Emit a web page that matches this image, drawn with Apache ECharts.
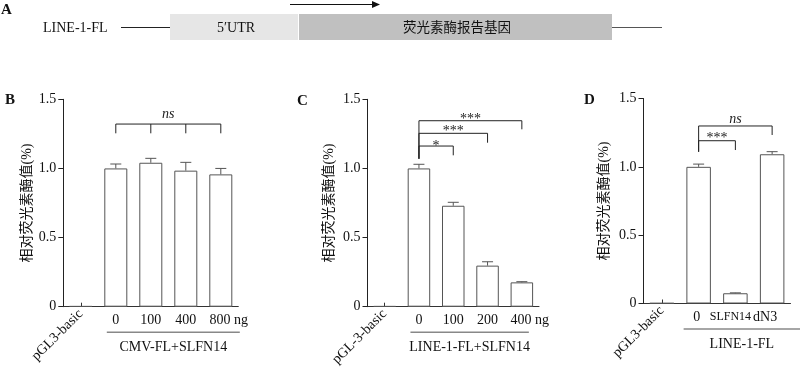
<!DOCTYPE html>
<html><head><meta charset="utf-8">
<script src="https://cdn.jsdelivr.net/npm/echarts@6/dist/echarts.min.js"></script>
<style>html,body{margin:0;padding:0;background:#fff}#c{width:800px;height:369px}</style>
</head><body><div id="c"></div>
<script>
// ---------- data ----------
const catsB = ['pGL3-basic', '0', '100', '400', '800'];
const valsB = [0.004, 1.0, 1.041, 0.984, 0.957];
const errB  = [0, 0.032, 0.032, 0.06, 0.043];
const catsC = ['pGL-3-basic', '0', '100', '200', '400'];
const valsC = [0.004, 1.0, 0.73, 0.297, 0.176];
const errC  = [0, 0.03, 0.025, 0.028, 0.005];
const catsD = ['pGL3-basic', '0', 'SLFN14', 'dN3'];
const valsD = [0.003, 1.0, 0.075, 1.092];
const errD  = [0, 0.02, 0.003, 0.019];
const unitB = 'ng', unitC = 'ng', unitD = '';
const yTickLabels = ['0', '0.5', '1.0', '1.5'];
const yTitle = '相对荧光素酶值(%)';
// bracket: [fromIdx, toIdx, yTop, yLeftEnd, yRightEnd, label, labelY, innerTicks]
const bracketsB = [[1, 4, 1.321, 1.254, 1.254, 'ns', 1.39, true]];
const bracketsC = [[1, 4, 1.345, 1.07, 1.283, '***', 1.38, false],
                   [1, 3, 1.254, 1.07, 1.186, '***', 1.29, false],
                   [1, 2, 1.162, 1.07, 1.095, '*', 1.185, false]];
const bracketsD = [[1, 3, 1.299, 1.11, 1.233, 'ns', 1.348, false],
                   [1, 2, 1.191, 1.11, 1.123, '***', 1.228, false]];
const groupB = ['CMV-FL+SLFN14', 1, 4];
const groupC = ['LINE-1-FL+SLFN14', 1, 4];
const groupD = ['LINE-1-FL', 1, 3];
const schemeLabels = ['LINE-1-FL', '5′UTR', '荧光素酶报告基因'];

// ---------- style ----------
const SERIF = '"Liberation Serif","Times New Roman","Noto Sans CJK SC",serif';
const FS = 14;
const panels = [
  {letter:'B', cats:catsB, vals:valsB, errs:errB, unit:unitB, br:bracketsB, grp:groupB,
   grid:{left:63.3, top:99.3, width:175, height:207.4}, barW:23, nameGap:29, grpOff:[-9, 19], letterPos:[5, 93],
   labelStyle:null},
  {letter:'C', cats:catsC, vals:valsC, errs:errC, unit:unitC, br:bracketsC, grp:groupC,
   grid:{left:367.5, top:99.3, width:171.5, height:207.4}, barW:22.5, nameGap:31.5, grpOff:[-8.5, 7], letterPos:[297, 94],
   labelStyle:null},
  {letter:'D', cats:catsD, vals:valsD, errs:errD, unit:unitD, br:bracketsD, grp:groupD,
   grid:{left:643.5, top:98.5, width:147, height:205}, barW:24.5, nameGap:32.5, grpOff:[-15, 28], letterPos:[584, 93],
   labelStyle:{1:{padding:[0, 4, 0, 0]}, 2:{fontSize:12, padding:[0, 10, 0, 0]}, 3:{padding:[0, 14, 0, 0]}}}
];

const grids = [], xAxes = [], yAxes = [], series = [], graphics = [];
const tickLen = 4;

panels.forEach((p, pi) => {
  grids.push(Object.assign({containLabel:false, outerBoundsMode:'none'}, p.grid));
  const last = p.cats.length - 1;
  const rich = {p:{width:16, fontSize:FS, fontFamily:SERIF}};
  if (p.labelStyle) {
    Object.keys(p.labelStyle).forEach(k => {
      rich['r' + k] = Object.assign({fontSize:FS, fontFamily:SERIF, color:'#111'}, p.labelStyle[k]);
    });
  }
  xAxes.push({
    gridIndex: pi, type:'category', data:p.cats, boundaryGap:true,
    axisLine:{show:true, lineStyle:{color:'#333', width:1}},
    axisTick:{show:true, inside:true, length:tickLen, alignWithLabel:true, lineStyle:{color:'#333'}},
    axisLabel:{interval:0, margin:7, color:'#111', fontFamily:SERIF, fontSize:FS,
      formatter:(v, i) => {
        if (i === 0) return '';
        if (p.labelStyle && p.labelStyle[i]) return '{r' + i + '|' + v + '}';
        return (i === last && p.unit) ? '{p|}' + v + ' ' + p.unit : v;
      },
      rich:rich},
    splitLine:{show:false}
  });
  xAxes.push({
    gridIndex: pi, type:'category', data:p.cats, boundaryGap:true, position:'bottom',
    axisLine:{show:false}, axisTick:{show:false},
    axisLabel:{interval:0, rotate:45, margin:5, color:'#111', fontFamily:SERIF, fontSize:FS,
      formatter:(v, i) => i === 0 ? v : ''},
    splitLine:{show:false}
  });
  yAxes.push({
    gridIndex: pi, type:'value', min:0, max:1.5, interval:0.5,
    name:yTitle, nameLocation:'middle', nameRotate:90, nameGap:p.nameGap,
    nameTextStyle:{fontFamily:SERIF, fontSize:FS, color:'#111'},
    axisLine:{show:true, lineStyle:{color:'#222'}},
    axisTick:{show:true, inside:false, length:5, lineStyle:{color:'#222'}},
    axisLabel:{margin:7, color:'#111', fontFamily:SERIF, fontSize:FS,
      formatter:(v) => yTickLabels[Math.round(v / 0.5)]},
    splitLine:{show:false}
  });
  const xi = pi * 2, yi = pi;
  series.push({
    type:'bar', xAxisIndex:xi, yAxisIndex:yi, data:p.vals, barWidth:p.barW,
    itemStyle:{color:'#fff', borderColor:'#555', borderWidth:1}, silent:true, z:2
  });
  // error bars
  series.push({
    type:'custom', xAxisIndex:xi, yAxisIndex:yi, clip:false, silent:true, z:3,
    data:p.vals.map((v, i) => [i, v, v + p.errs[i]]),
    renderItem:(params, api) => {
      const i = params.dataIndex;
      if (!(p.errs[i] > 0)) return {type:'group', children:[]};
      const p0 = api.coord([api.value(0), api.value(1)]);
      const p1 = api.coord([api.value(0), api.value(2)]);
      const cap = 11;
      const st = {stroke:'#555', lineWidth:1};
      return {type:'group', children:[
        {type:'line', shape:{x1:p0[0], y1:p0[1], x2:p1[0], y2:p1[1]}, style:st},
        {type:'line', shape:{x1:p1[0] - cap / 2, y1:p1[1], x2:p1[0] + cap / 2, y2:p1[1]}, style:st}
      ]};
    }
  });
  // significance brackets
  series.push({
    type:'custom', xAxisIndex:xi, yAxisIndex:yi, clip:false, silent:true, z:4,
    data:p.br.map(b => [b[0], b[2]]),
    renderItem:(params, api) => {
      const b = p.br[params.dataIndex];
      const L = api.coord([b[0], b[2]]), R = api.coord([b[1], b[2]]);
      const yl = api.coord([b[0], b[3]])[1], yr = api.coord([b[1], b[4]])[1];
      const st = {stroke:'#222', lineWidth:1};
      const ch = [
        {type:'line', shape:{x1:L[0], y1:L[1], x2:R[0], y2:R[1]}, style:st},
        {type:'line', shape:{x1:L[0], y1:L[1], x2:L[0], y2:yl}, style:st},
        {type:'line', shape:{x1:R[0], y1:R[1], x2:R[0], y2:yr}, style:st}
      ];
      if (b[7]) {
        for (let k = b[0] + 1; k < b[1]; k++) {
          const q = api.coord([k, b[2]]);
          ch.push({type:'line', shape:{x1:q[0], y1:q[1], x2:q[0], y2:yr}, style:st});
        }
      }
      const ty = api.coord([b[0], b[6]])[1];
      const isNs = b[5] === 'ns';
      ch.push({type:'text', x:(L[0] + R[0]) / 2, y:ty + (isNs ? 0 : 3),
        style:{text:b[5], fill:'#222', font:(isNs ? 'italic ' : '') + FS + 'px ' + SERIF,
          align:'center', verticalAlign:'middle'}});
      return {type:'group', children:ch};
    }
  });
  // group underline + label
  series.push({
    type:'custom', xAxisIndex:xi, yAxisIndex:yi, clip:false, silent:true, z:4,
    data:[[p.grp[1], 0]],
    renderItem:(params, api) => {
      const a = api.coord([p.grp[1], 0]), b = api.coord([p.grp[2], 0]);
      const x1 = a[0] + p.grpOff[0], x2 = b[0] + p.grpOff[1];
      const y = a[1] + 25.5;
      return {type:'group', children:[
        {type:'line', shape:{x1:x1, y1:y, x2:x2, y2:y}, style:{stroke:'#888', lineWidth:1.5}},
        {type:'text', x:(x1 + x2) / 2, y:y + 15,
          style:{text:p.grp[0], fill:'#111', font:FS + 'px ' + SERIF, align:'center', verticalAlign:'middle'}}
      ]};
    }
  });
  graphics.push({type:'text', left:p.letterPos[0], top:p.letterPos[1],
    style:{text:p.letter, fill:'#111', font:'bold 15px ' + SERIF}});
});

// ---------- panel A schematic ----------
graphics.push(
  {type:'text', left:1, top:3, style:{text:'A', fill:'#111', font:'bold 15px ' + SERIF}},
  {type:'text', x:43, y:28, style:{text:schemeLabels[0], fill:'#111', font:FS + 'px ' + SERIF, verticalAlign:'middle'}},
  {type:'line', shape:{x1:121, y1:27.5, x2:170, y2:27.5}, style:{stroke:'#222', lineWidth:1}},
  {type:'rect', shape:{x:170, y:14, width:128, height:26}, style:{fill:'#e6e6e6'}},
  {type:'rect', shape:{x:299, y:14, width:313, height:26}, style:{fill:'#c0c0c0'}},
  {type:'line', shape:{x1:612, y1:27.5, x2:662, y2:27.5}, style:{stroke:'#555', lineWidth:1}},
  {type:'text', x:236, y:28, style:{text:schemeLabels[1], fill:'#111', font:FS + 'px ' + SERIF, align:'center', verticalAlign:'middle'}},
  {type:'text', x:457, y:28, style:{text:schemeLabels[2], fill:'#111', font:'13.5px ' + SERIF, align:'center', verticalAlign:'middle'}},
  {type:'line', shape:{x1:290, y1:4.5, x2:374, y2:4.5}, style:{stroke:'#111', lineWidth:1}},
  {type:'polygon', shape:{points:[[380, 4.5], [372, 1], [372, 8]]}, style:{fill:'#111'}}
);

const chart = echarts.init(document.getElementById('c'), null, {renderer:'canvas'});
chart.setOption({
  backgroundColor:'#fff', animation:false,
  grid:grids, xAxis:xAxes, yAxis:yAxes, series:series, graphic:graphics
});
</script></body></html>
